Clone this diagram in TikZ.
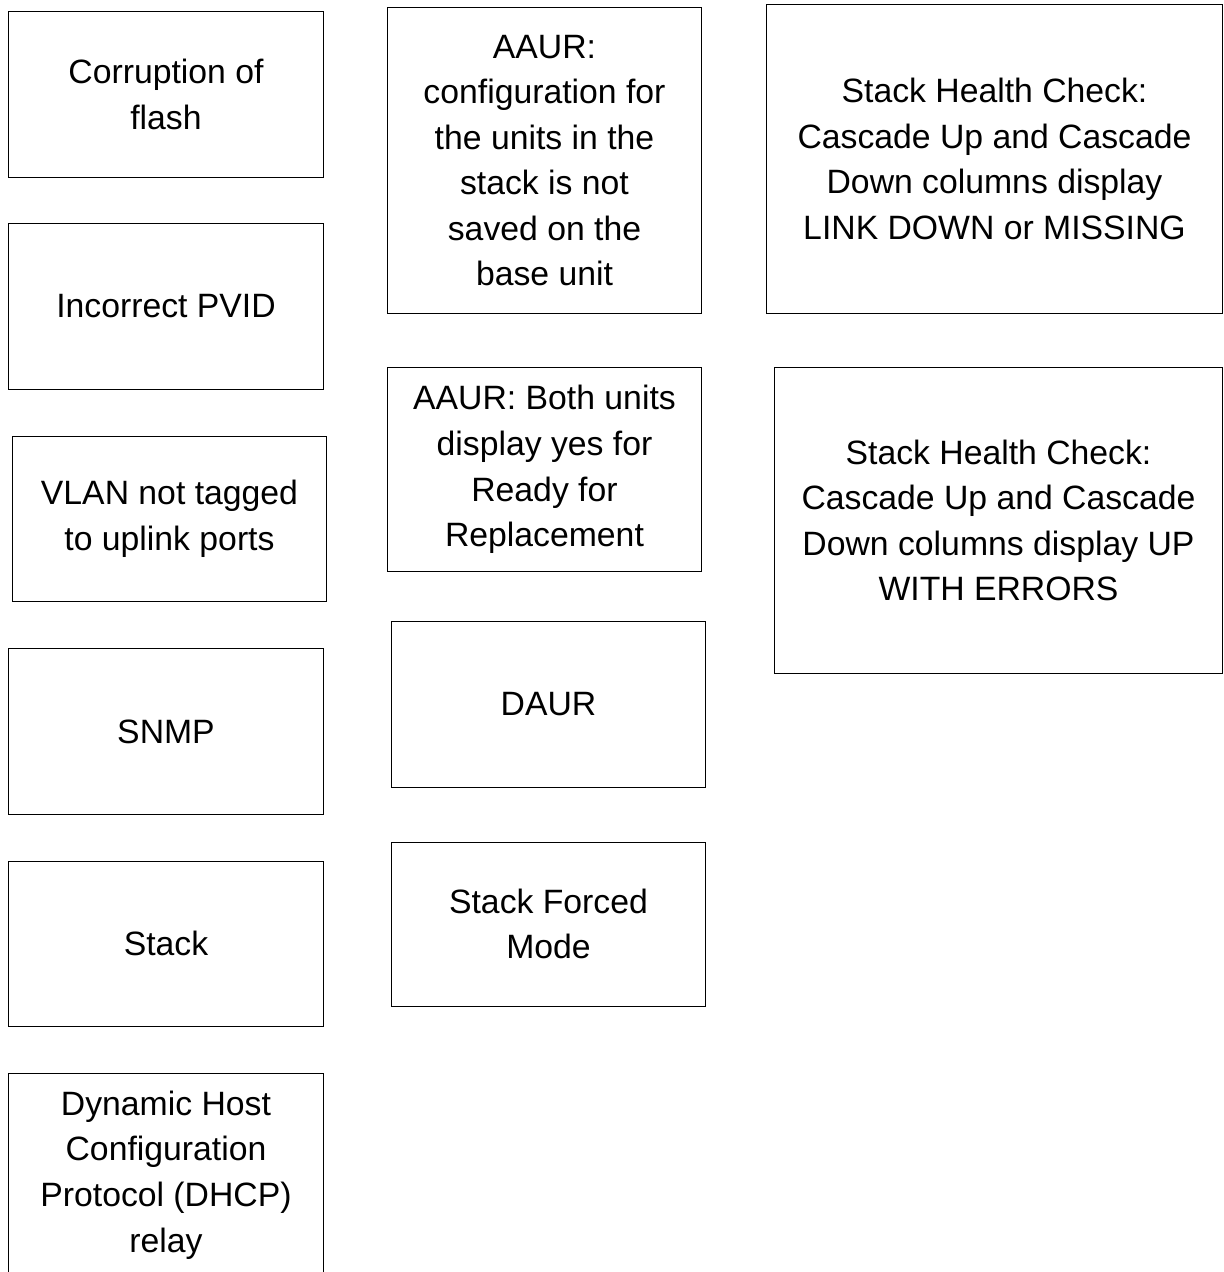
\documentclass[tikz,border=0pt]{standalone}
\usepackage{fontspec}
\setmainfont{Liberation Sans}
\usepackage{tikz}

\tikzset{
  box/.style={draw=black, line width=0.7pt, align=center, inner sep=0pt,
    font=\fontsize{24}{32.4}\selectfont},
}

\begin{document}
\begin{tikzpicture}[line cap=rect,line join=miter,x=0.025cm,y=-0.025cm]
\useasboundingbox (0,0) rectangle (1224,1272);
%\clip (0,0) rectangle (1224,1272);
% left column
\node[box, minimum width=7.85cm, minimum height=4.125cm] (flash) at (166,94.5) {Corruption of\\flash};
\node[box, minimum width=7.85cm, minimum height=4.125cm] (pvid) at (166,306.5) {Incorrect PVID};
\node[box, minimum width=7.825cm, minimum height=4.1cm] (vlan) at (169.5,519) {VLAN not tagged\\to uplink ports};
\node[box, minimum width=7.85cm, minimum height=4.125cm] (snmp) at (166,731.5) {SNMP};
\node[box, minimum width=7.85cm, minimum height=4.125cm] (stack) at (166,943.5) {Stack};
\node[box, minimum width=7.85cm, minimum height=5.05cm] (dhcp) at (166,1175) {Dynamic Host\\Configuration\\Protocol (DHCP)\\relay};
% middle column
\node[box, minimum width=7.825cm, minimum height=7.625cm] (aaurcfg) at (544.5,160.5) {AAUR:\\configuration for\\the units in the\\stack is not\\saved on the\\base unit};
\node[box, minimum width=7.825cm, minimum height=5.075cm] (aaurboth) at (544.5,469.5) {AAUR: Both units\\display yes for\\Ready for\\Replacement};
\node[box, minimum width=7.825cm, minimum height=4.125cm] (daur) at (548.5,704.5) {DAUR};
\node[box, minimum width=7.825cm, minimum height=4.1cm] (forced) at (548.5,924) {Stack Forced\\Mode};
% right column
\node[box, minimum width=11.375cm, minimum height=7.7cm] (shcdown) at (994.5,159) {Stack Health Check:\\Cascade Up and Cascade\\Down columns display\\LINK DOWN or MISSING};
\node[box, minimum width=11.175cm, minimum height=7.625cm] (shcerr) at (998.5,520.5) {Stack Health Check:\\Cascade Up and Cascade\\Down columns display UP\\WITH ERRORS};
\end{tikzpicture}
\end{document}
